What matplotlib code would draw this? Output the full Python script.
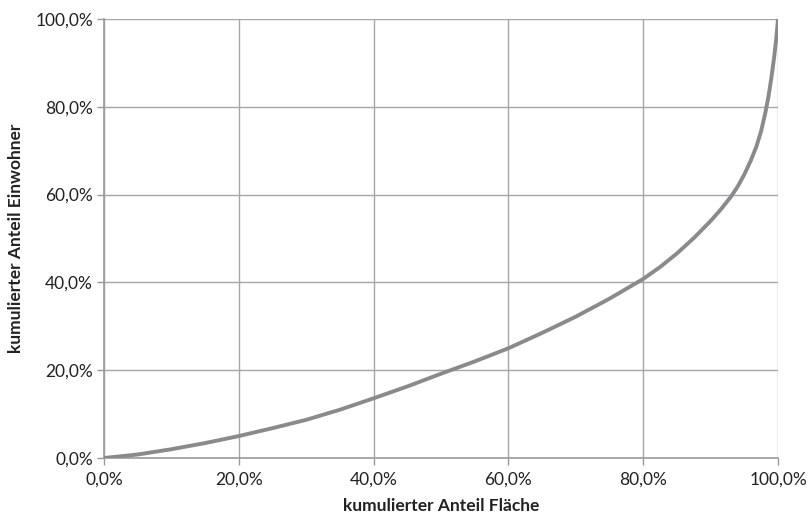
import numpy as np
import matplotlib.pyplot as plt
from matplotlib.ticker import FuncFormatter

# Lorenz curve: cumulative share of area vs. cumulative share of inhabitants (in %)
anteil_flaeche = [0, 5, 10, 15, 20, 25, 30, 35, 40, 45, 50, 55, 60, 65, 70, 75, 80,
                  82.5, 85, 87.5, 90, 91.5, 93, 94, 95, 96, 96.8, 97.5, 98.1, 98.6,
                  99.0, 99.4, 99.7, 100]
anteil_einwohner = [0, 0.8, 2.0, 3.4, 5.0, 6.8, 8.7, 11.0, 13.6, 16.3, 19.2, 22.0, 25.0,
                    28.5, 32.2, 36.3, 40.8, 43.5, 46.6, 50.1, 54.0, 56.6, 59.5, 61.8,
                    64.6, 67.9, 71.0, 74.5, 78.5, 82.5, 86.5, 91.0, 95.0, 100]
ticks = [0, 20, 40, 60, 80, 100]

plt.rcParams['font.family'] = ['Lato', 'DejaVu Sans']

fig = plt.figure(figsize=(8.08, 5.17), dpi=100)
ax = fig.add_axes([0.1287, 0.1141, 0.8342, 0.8491])

ax.plot(anteil_flaeche, anteil_einwohner, color='#8a8a8c', lw=2.8,
        solid_joinstyle='round', zorder=3)

ax.set_xlim(0, 100)
ax.set_ylim(0, 100)
ax.set_xticks(ticks)
ax.set_yticks(ticks)
fmt = FuncFormatter(lambda v, p: ('%.1f%%' % v).replace('.', ','))
ax.xaxis.set_major_formatter(fmt)
ax.yaxis.set_major_formatter(fmt)
ax.grid(True, color='#a6a6a6', lw=1.0)
ax.set_axisbelow(True)
for s in ['top', 'right']:
    ax.spines[s].set_visible(False)
for s in ['left', 'bottom']:
    ax.spines[s].set_color('#9a9a9a')
    ax.spines[s].set_linewidth(1.2)
ax.tick_params(axis='both', colors='#9a9a9a', length=5, width=1, labelsize=12.5, labelcolor='#222222')
ax.tick_params(axis='x', pad=5)
ax.tick_params(axis='y', pad=3)

ax.set_xlabel('kumulierter Anteil Fläche', fontsize=12.5, fontweight='bold', color='#222222', labelpad=7)
ax.set_ylabel('kumulierter Anteil Einwohner', fontsize=12.5, fontweight='bold', color='#222222', labelpad=8)

fig.savefig('out.png', dpi=100)
